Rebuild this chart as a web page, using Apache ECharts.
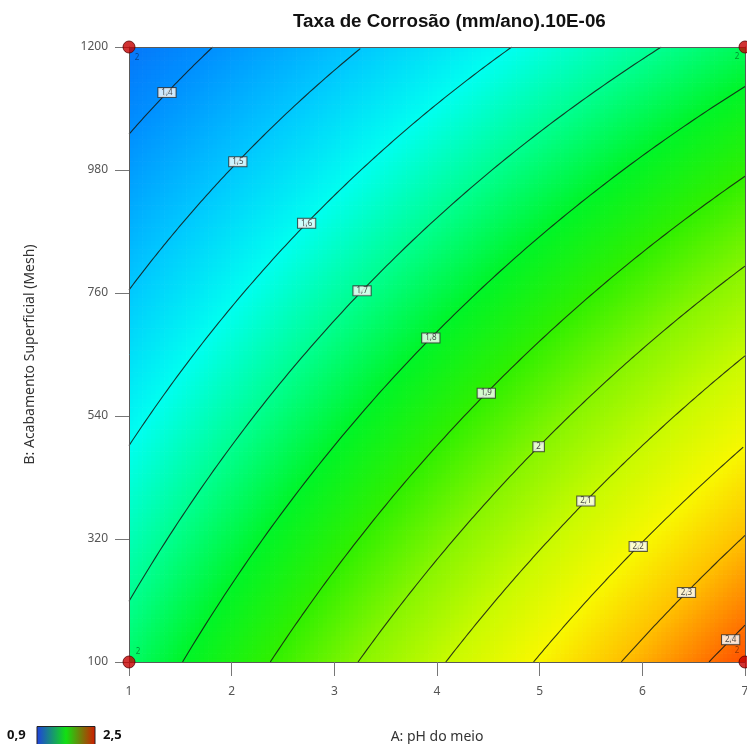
<!DOCTYPE html>
<html>
<head>
<meta charset="utf-8">
<title>Taxa de Corrosão</title>
<script src="https://cdn.jsdelivr.net/npm/echarts@6/dist/echarts.min.js"></script>
<style>
  html, body { margin: 0; padding: 0; background: #fff; overflow: hidden; }
  #chart { width: 747px; height: 744px; }
</style>
</head>
<body>
<div id="chart"></div>
<script>
// Factor ranges
const phRange = [1, 7];
const meshRange = [100, 1200];

// Factorial design points (2 runs each) and the mean corrosion rate there
const designPH   = [1, 7, 1, 7];
const designMesh = [100, 100, 1200, 1200];
const designRate = [1.739, 2.441, 1.344, 1.756];
const designRuns = [2, 2, 2, 2];

// Contour levels and where each level's label sits along pH
const contourLevels  = [1.4, 1.5, 1.6, 1.7, 1.8, 1.9, 2.0, 2.1, 2.2, 2.3, 2.4];
const contourLabelPH = [1.37, 2.06, 2.73, 3.27, 3.94, 4.48, 4.99, 5.45, 5.96, 6.43, 6.86];

// Axis ticks and colour scale range
const phTicks   = [1, 2, 3, 4, 5, 6, 7];
const meshTicks = [100, 320, 540, 760, 980, 1200];
const scaleRange = [0.9, 2.5];

// ---- two-factor interaction model fitted through the four corners ----
const f00 = designRate[0], f10 = designRate[1], f01 = designRate[2], f11 = designRate[3];
const cA = f10 - f00, cB = f01 - f00, cAB = f11 - f10 - f01 + f00;
const toU = a => (a - phRange[0]) / (phRange[1] - phRange[0]);
const toV = b => (b - meshRange[0]) / (meshRange[1] - meshRange[0]);
const fromU = u => phRange[0] + u * (phRange[1] - phRange[0]);
const fromV = v => meshRange[0] + v * (meshRange[1] - meshRange[0]);
function rate(a, b) {
  const u = toU(a), v = toV(b);
  return f00 + cA * u + cB * v + cAB * u * v;
}
// mesh position (normalised) on a contour for a given normalised pH
function contourV(level, u) {
  return (level - f00 - cA * u) / (cB + cAB * u);
}

// Surface cells
const nA = 140, nB = 140;
const dA = (phRange[1] - phRange[0]) / nA;
const dB = (meshRange[1] - meshRange[0]) / nB;
const cells = [];
for (let i = 0; i < nA; i++) {
  for (let j = 0; j < nB; j++) {
    const a = phRange[0] + (i + 0.5) * dA;
    const b = meshRange[0] + (j + 0.5) * dB;
    cells.push([a, b, rate(a, b)]);
  }
}

// Contour polylines
function contourLine(level) {
  const uBottom = (level - f00) / (f10 - f00);
  const uTop = (level - f01) / (f11 - f01);
  const uLo = Math.max(0, Math.min(uBottom, uTop));
  const uHi = Math.min(1, Math.max(uBottom, uTop));
  const pts = [];
  const n = 120;
  for (let k = 0; k <= n; k++) {
    const u = uLo + (uHi - uLo) * k / n;
    const v = Math.max(0, Math.min(1, contourV(level, u)));
    pts.push([fromU(u), fromV(v)]);
  }
  return pts;
}
const fmt = v => (Math.round(v * 10) / 10).toString().replace('.', ',');

const contourSeries = contourLevels.map(level => ({
  type: 'line',
  data: contourLine(level),
  showSymbol: false,
  silent: true,
  z: 3,
  lineStyle: { color: 'rgba(20,25,20,0.85)', width: 1.1 }
}));

const labelData = contourLevels.map((level, i) => {
  const a = contourLabelPH[i];
  const b = fromV(contourV(level, toU(a)));
  return { value: [a, b], name: fmt(level) };
});

const cornerOffsets = [[9, -10], [-8, -11], [8, 11], [-8, 10]];
const designData = designPH.map((a, i) => ({
  value: [a, designMesh[i]],
  label: { offset: cornerOffsets[i] },
  runs: designRuns[i]
}));

const axisColor = '#5a5a5a';
const chart = echarts.init(document.getElementById('chart'), null, { renderer: 'canvas' });
chart.setOption({
  animation: false,
  backgroundColor: '#fff',
  grid: {
    left: 129, top: 47, width: 616, height: 615,
    containLabel: false, outerBoundsMode: 'none'
  },
  visualMap: {
    show: false,
    type: 'continuous',
    min: scaleRange[0],
    max: scaleRange[1],
    dimension: 2,
    seriesIndex: 0,
    inRange: {
      color: [
        '#0000ff', '#0018ff', '#0030ff', '#0048ff', '#0a64f5',
        '#0090ff', '#00c8ff', '#00fff0', '#00ff90', '#00f528',
        '#30f000', '#88f500', '#c8fa00', '#f8f800', '#ffc000',
        '#ff7000', '#ff2000'
      ]
    }
  },
  xAxis: [
    {
      type: 'value', min: phRange[0], max: phRange[1], interval: 1,
      position: 'bottom', z: 5,
      axisLine: { show: true, onZero: false, lineStyle: { color: axisColor, width: 1 } },
      axisTick: { show: true, length: 14, lineStyle: { color: '#777' } },
      axisLabel: { margin: 24, color: '#555', fontSize: 12, fontFamily: 'Noto Sans' },
      splitLine: { show: false },
      name: 'A: pH do meio', nameLocation: 'middle', nameGap: 68,
      nameTextStyle: { color: '#333', fontSize: 14, fontFamily: 'Noto Sans' }
    },
    {
      type: 'value', min: phRange[0], max: phRange[1], position: 'top', z: 5,
      axisLine: { show: true, onZero: false, lineStyle: { color: axisColor, width: 1 } },
      axisTick: { show: false }, axisLabel: { show: false }, splitLine: { show: false }
    }
  ],
  yAxis: [
    {
      type: 'value', min: meshRange[0], max: meshRange[1], position: 'left', z: 5,
      axisLine: { show: true, onZero: false, lineStyle: { color: axisColor, width: 1 } },
      axisTick: { show: true, length: 14, customValues: meshTicks, lineStyle: { color: '#777' } },
      axisLabel: {
        margin: 21, color: '#555', fontSize: 12, fontFamily: 'Noto Sans',
        customValues: meshTicks, formatter: v => String(v)
      },
      splitLine: { show: false },
      name: 'B: Acabamento Superficial (Mesh)', nameLocation: 'middle', nameGap: 92,
      nameTextStyle: { color: '#333', fontSize: 14, fontFamily: 'Noto Sans' }
    },
    {
      type: 'value', min: meshRange[0], max: meshRange[1], position: 'right', z: 5,
      axisLine: { show: true, onZero: false, lineStyle: { color: axisColor, width: 1 } },
      axisTick: { show: false }, axisLabel: { show: false }, splitLine: { show: false }
    }
  ],
  graphic: [
    {
      type: 'text', left: 293, top: 12, z: 10,
      style: {
        text: 'Taxa de Corrosão (mm/ano).10E-06',
        fill: '#111',
        font: 'bold 18.8px "Liberation Sans", Arial, sans-serif'
      }
    },
    {
      type: 'group', left: 7, top: 726, z: 10,
      children: [
        { type: 'text', x: 0, y: 2, style: { text: '0,9', fill: '#111', font: 'bold 13px "Open Sans", sans-serif' } },
        {
          type: 'rect', shape: { x: 30, y: 0, width: 58, height: 22 },
          style: {
            stroke: '#222', lineWidth: 1,
            fill: new echarts.graphic.LinearGradient(0, 0, 1, 0, [
              { offset: 0, color: '#1f3fe0' },
              { offset: 0.5, color: '#12e012' },
              { offset: 1, color: '#d21a00' }
            ])
          }
        },
        { type: 'text', x: 96, y: 2, style: { text: '2,5', fill: '#111', font: 'bold 13px "Open Sans", sans-serif' } }
      ]
    }
  ],
  series: [
    {
      type: 'custom',
      data: cells,
      encode: { x: 0, y: 1 },
      clip: true,
      silent: true,
      z: 1,
      renderItem: function (params, api) {
        const a = api.value(0), b = api.value(1);
        const p = api.coord([a - dA / 2, b + dB / 2]);
        const s = api.size([dA, dB]);
        return {
          type: 'rect',
          shape: { x: p[0], y: p[1], width: s[0] + 0.7, height: s[1] + 0.7 },
          style: { fill: api.visual('color') }
        };
      }
    },
    ...contourSeries,
    {
      type: 'scatter',
      data: labelData,
      symbolSize: 0,
      silent: true,
      z: 6,
      label: {
        show: true,
        position: 'inside',
        formatter: p => p.name,
        fontSize: 8,
        fontFamily: 'Noto Sans',
        color: '#222',
        backgroundColor: '#fff',
        borderColor: '#333',
        borderWidth: 1,
        padding: [1, 3, 0, 3]
      }
    },
    {
      type: 'scatter',
      data: designData,
      symbol: 'circle',
      symbolSize: 12,
      clip: false,
      silent: true,
      z: 8,
      itemStyle: { color: '#c40000', borderColor: '#5a0000', borderWidth: 1 },
      label: {
        show: true,
        position: 'inside',
        formatter: p => String(p.data.runs),
        fontSize: 8,
        fontFamily: 'Noto Sans',
        color: 'rgba(0,0,0,0.55)'
      }
    }
  ]
});
</script>
</body>
</html>
